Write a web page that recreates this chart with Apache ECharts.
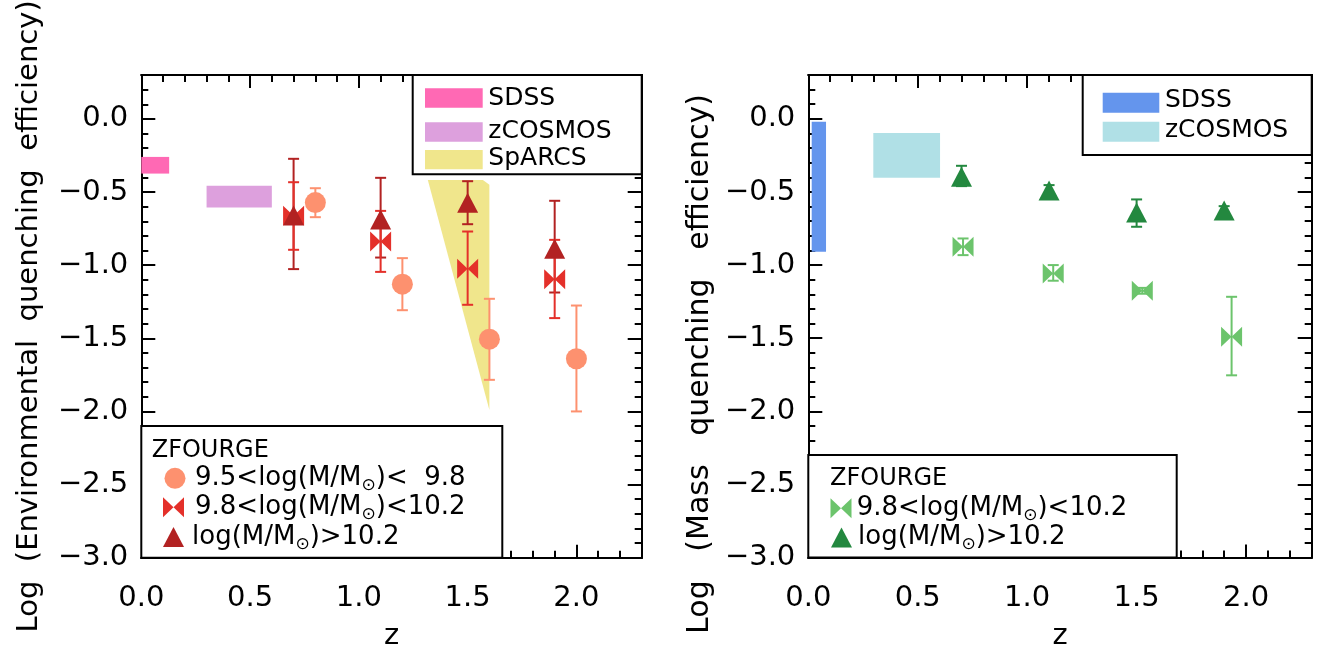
<!DOCTYPE html>
<html>
<head>
<meta charset="utf-8">
<script src="https://cdn.jsdelivr.net/npm/echarts@6/dist/echarts.min.js"></script>
<style>
html,body{margin:0;padding:0;background:#fff;}
#chart{width:1338px;height:645px;}
</style>
</head>
<body>
<div id="chart"></div>
<script>
// ---------- data ----------
const FONT = 'DejaVu Sans';
const xTickLabels = { '0': '0.0', '0.5': '0.5', '1': '1.0', '1.5': '1.5', '2': '2.0' };
const yTickLabels = { '0': '0.0', '-0.5': '\u22120.5', '-1': '\u22121.0', '-1.5': '\u22121.5', '-2': '\u22122.0', '-2.5': '\u22122.5', '-3': '\u22123.0' };

// Left panel: environmental quenching efficiency
const envCircZ  = [0.8, 1.2, 1.6, 2.0];
const envCircY  = [-0.572, -1.13, -1.506, -1.64];
const envCircLo = [-0.672, -1.308, -1.784, -2.0];
const envCircHi = [-0.474, -0.952, -1.23, -1.276];

const envBowZ  = [0.7, 1.1, 1.5, 1.9];
const envBowY  = [-0.663, -0.839, -1.025, -1.096];
const envBowLo = [-0.895, -1.046, -1.271, -1.362];
const envBowHi = [-0.433, -0.629, -0.77, -0.827];

const envTriZ  = [0.7, 1.1, 1.5, 1.9];
const envTriY  = [-0.66, -0.688, -0.573, -0.887];
const envTriLo = [-1.027, -0.948, -0.72, -1.187];
const envTriHi = [-0.273, -0.403, -0.426, -0.56];

// reference regions [z0, z1, yLow, yHigh]
const envSDSS    = [0.0, 0.128, -0.374, -0.26];
const envZCOSMOS = [0.3, 0.6, -0.606, -0.458];
const sparcsZ = [1.317, 1.57, 1.6, 1.6];
const sparcsY = [-0.417, -0.417, -0.45, -1.99];

// Right panel: mass quenching efficiency
const massBowZ  = [0.707, 1.119, 1.526, 1.934];
const massBowY  = [-0.875, -1.057, -1.176, -1.49];
const massBowLo = [-0.932, -1.107, -1.196, -1.754];
const massBowHi = [-0.818, -1.0, -1.156, -1.217];

const massTriZ  = [0.7, 1.1, 1.5, 1.9];
const massTriY  = [-0.396, -0.49, -0.64, -0.627];
const massTriLo = [-0.46, -0.53, -0.738, -0.66];
const massTriHi = [-0.321, -0.453, -0.551, -0.597];

const massSDSS    = [0.0155, 0.081, -0.909, -0.02];
const massZCOSMOS = [0.297, 0.602, -0.403, -0.096];

// text
const envTitle  = 'Log  (Environmental  quenching  efficiency)';
const massTitle = 'Log   (Mass   quenching   efficiency)';
const xTitle = 'z';
const refNamesLeft  = ['SDSS', 'zCOSMOS', 'SpARCS'];
const refNamesRight = ['SDSS', 'zCOSMOS'];
const zfTitle = 'ZFOURGE';
const binLabels = [
  '{n|9.5<log(M/M}{s|\u2299}{n|)<  9.8}',
  '{n|9.8<log(M/M}{s|\u2299}{n|)<10.2}',
  '{n|log(M/M}{s|\u2299}{n|)>10.2}'
];

// colours
const C_CIRC = '#fd916f';
const C_BOW  = '#e4302a';
const C_TRI  = '#b22222';
const C_GBOW = '#6cc46c';
const C_GTRI = '#23883f';
const C_SDSS_L = '#ff69b4', C_ZC_L = '#dda0dd', C_SP = '#f0e68c';
const C_SDSS_R = '#6495ed', C_ZC_R = '#b0e0e6';
const BOWTIE = 'path://M0,0L10,5L0,10ZM20,0L10,5L20,10Z';

// ---------- layout ----------
const G = [
  { left: 141.3, top: 75, width: 500.4, height: 482.7, containLabel: false, outerBoundsMode: 'none' },
  { left: 808.3, top: 75, width: 503.4, height: 482.5, containLabel: false, outerBoundsMode: 'none' }
];

function xAxes(g) {
  const base = {
    type: 'value', gridIndex: g, min: 0, max: 2.3,
    splitLine: { show: false },
    axisLine: { show: true, onZero: false, lineStyle: { color: '#000', width: 2 } }
  };
  const tk = (len) => ({ show: true, inside: true, length: len, lineStyle: { color: '#000', width: 2 } });
  return [
    Object.assign({}, base, {
      position: 'bottom', interval: 0.5, axisTick: tk(13),
      axisLabel: { show: true, margin: 26, color: '#000', fontSize: 29, fontFamily: FONT,
        showMaxLabel: false, showMinLabel: true,
        formatter: v => xTickLabels[String(Math.round(v * 10) / 10)] || '' },
      name: xTitle, nameLocation: 'middle', nameGap: 64,
      nameTextStyle: { color: '#000', fontSize: 29, fontFamily: FONT }
    }),
    Object.assign({}, base, { position: 'bottom', interval: 0.1, axisTick: tk(7), axisLabel: { show: false } }),
    Object.assign({}, base, { position: 'top', interval: 0.5, axisTick: tk(13), axisLabel: { show: false } }),
    Object.assign({}, base, { position: 'top', interval: 0.1, axisTick: tk(7), axisLabel: { show: false } })
  ];
}
function yAxes(g, title) {
  const base = {
    type: 'value', gridIndex: g, min: -3, max: 0.3,
    splitLine: { show: false },
    axisLine: { show: true, onZero: false, lineStyle: { color: '#000', width: 2 } }
  };
  const tk = (len) => ({ show: true, inside: true, length: len, lineStyle: { color: '#000', width: 2 } });
  const main = Object.assign({}, base, {
    position: 'left', interval: 0.5, axisTick: tk(14),
    axisLabel: { show: true, margin: 13, color: '#000', fontSize: 29, fontFamily: FONT,
      showMaxLabel: false, showMinLabel: true,
      formatter: v => yTickLabels[String(Math.round(v * 10) / 10)] || '' }
  });
  if (title) {
    Object.assign(main, { name: title, nameLocation: 'middle', nameGap: 97, nameRotate: 90,
      nameTextStyle: { color: '#000', fontSize: 29, fontFamily: FONT } });
  }
  return [
    main,
    Object.assign({}, base, { position: 'left', interval: 0.1, axisTick: tk(7), axisLabel: { show: false } }),
    Object.assign({}, base, { position: 'right', interval: 0.5, axisTick: tk(14), axisLabel: { show: false } }),
    Object.assign({}, base, { position: 'right', interval: 0.1, axisTick: tk(7), axisLabel: { show: false } })
  ];
}

// ---------- series helpers ----------
function rectSeries(g, r, color) {
  return {
    type: 'custom', xAxisIndex: g * 4, yAxisIndex: g * 4, z: 1, silent: true,
    data: [r],
    renderItem: (p, api) => {
      const a = api.coord([api.value(0), api.value(3)]);
      const b = api.coord([api.value(1), api.value(2)]);
      return { type: 'rect', shape: { x: a[0], y: a[1], width: b[0] - a[0], height: b[1] - a[1] }, style: { fill: color } };
    }
  };
}
function polySeries(g, zs, ys, color) {
  return {
    type: 'custom', xAxisIndex: g * 4, yAxisIndex: g * 4, z: 1, silent: true,
    data: [[zs[0], ys[0]]],
    renderItem: (p, api) => ({
      type: 'polygon',
      shape: { points: zs.map((z, i) => api.coord([z, ys[i]])) },
      style: { fill: color }
    })
  };
}
function errSeries(g, zs, lo, hi, color) {
  return {
    type: 'custom', xAxisIndex: g * 4, yAxisIndex: g * 4, z: 2, silent: true,
    data: zs.map((z, i) => [z, lo[i], hi[i]]),
    renderItem: (p, api) => {
      const a = api.coord([api.value(0), api.value(1)]);
      const b = api.coord([api.value(0), api.value(2)]);
      const w = 5.5, st = { stroke: color, lineWidth: 2 };
      return { type: 'group', children: [
        { type: 'line', shape: { x1: a[0], y1: a[1], x2: b[0], y2: b[1] }, style: st },
        { type: 'line', shape: { x1: a[0] - w, y1: a[1], x2: a[0] + w, y2: a[1] }, style: st },
        { type: 'line', shape: { x1: b[0] - w, y1: b[1], x2: b[0] + w, y2: b[1] }, style: st }
      ] };
    }
  };
}
function ptSeries(g, zs, ys, symbol, size, color) {
  return {
    type: 'scatter', xAxisIndex: g * 4, yAxisIndex: g * 4, z: 3, silent: true,
    symbol: symbol, symbolSize: size,
    itemStyle: { color: color, opacity: 1 },
    data: zs.map((z, i) => [z, ys[i]])
  };
}

// ---------- legend graphics ----------
const txt = (x, y, text, size) => ({
  type: 'text', x: x, y: y, z: 20,
  style: { text: text, fill: '#000', fontSize: size, fontFamily: FONT, verticalAlign: 'middle', align: 'left' }
});
const richTxt = (x, y, text) => ({
  type: 'text', x: x, y: y, z: 20,
  style: {
    text: text, fill: '#000', fontFamily: FONT, verticalAlign: 'middle', align: 'left',
    rich: {
      n: { fontSize: 26, fontFamily: FONT, lineHeight: 32, fill: '#000' },
      s: { fontSize: 17, fontFamily: FONT, lineHeight: 17, fill: '#000', verticalAlign: 'bottom' }
    }
  }
});
const box = (x1, y1, x2, y2) => ({
  type: 'rect', z: 15, shape: { x: x1, y: y1, width: x2 - x1, height: y2 - y1 },
  style: { fill: '#fff', stroke: '#000', lineWidth: 2 }
});
const swatch = (x1, y1, x2, y2, c) => ({
  type: 'rect', z: 18, shape: { x: x1, y: y1, width: x2 - x1, height: y2 - y1 }, style: { fill: c }
});
const bowIcon = (cx, cy, c) => ({
  type: 'polygon', z: 18,
  shape: { points: [[cx - 10.5, cy - 10], [cx, cy], [cx - 10.5, cy + 10]] }, style: { fill: c }
});
const bowIcon2 = (cx, cy, c) => ({
  type: 'polygon', z: 18,
  shape: { points: [[cx + 10.5, cy - 10], [cx, cy], [cx + 10.5, cy + 10]] }, style: { fill: c }
});
const triIcon = (cx, cy, c) => ({
  type: 'polygon', z: 18,
  shape: { points: [[cx, cy - 10], [cx + 10.5, cy + 10], [cx - 10.5, cy + 10]] }, style: { fill: c }
});

const graphics = [
  // right panel y title
  {
    type: 'text', x: 700, y: 364, rotation: Math.PI / 2, z: 20,
    style: { text: massTitle, fill: '#000', fontSize: 30, fontFamily: FONT, align: 'center', verticalAlign: 'middle' }
  },
  // left top legend
  box(412.7, 75, 641.7, 174.3),
  swatch(425, 88.3, 482.7, 107.7, C_SDSS_L), txt(488.3, 98.5, refNamesLeft[0], 25),
  swatch(425, 122.3, 482.7, 141.7, C_ZC_L), txt(488.3, 131.5, refNamesLeft[1], 25),
  swatch(425, 150, 482.7, 169.3, C_SP), txt(488.3, 158.5, refNamesLeft[2], 25),
  // left bottom legend
  box(141.3, 426, 502.3, 557.7),
  txt(151.7, 451, zfTitle, 24),
  { type: 'circle', z: 18, shape: { cx: 175, cy: 478.3, r: 10.5 }, style: { fill: C_CIRC } },
  richTxt(195, 478.3, binLabels[0]),
  bowIcon(173.5, 507.3, C_BOW), bowIcon2(173.5, 507.3, C_BOW),
  richTxt(195, 507.3, binLabels[1]),
  triIcon(173.5, 537, C_TRI),
  richTxt(192, 537, binLabels[2]),
  // right top legend
  box(1082.7, 75, 1311.7, 155),
  swatch(1102.7, 92.7, 1159.3, 112.7, C_SDSS_R), txt(1165, 100, refNamesRight[0], 25),
  swatch(1102.7, 121.7, 1159.3, 141.7, C_ZC_R), txt(1165, 130.5, refNamesRight[1], 25),
  // right bottom legend
  box(808.3, 455, 1176.7, 557.5),
  txt(830, 478.5, zfTitle, 24),
  bowIcon(841, 508.3, C_GBOW), bowIcon2(841, 508.3, C_GBOW),
  richTxt(856.7, 508.3, binLabels[1]),
  triIcon(841.5, 537.5, C_GTRI),
  richTxt(858, 537.5, binLabels[2])
];

const option = {
  animation: false,
  backgroundColor: '#fff',
  grid: G,
  xAxis: xAxes(0).concat(xAxes(1)),
  yAxis: yAxes(0, envTitle).concat(yAxes(1, null)),
  graphic: { elements: graphics },
  series: [
    rectSeries(0, envSDSS, C_SDSS_L),
    rectSeries(0, envZCOSMOS, C_ZC_L),
    polySeries(0, sparcsZ, sparcsY, C_SP),
    errSeries(0, envTriZ, envTriLo, envTriHi, C_TRI),
    errSeries(0, envBowZ, envBowLo, envBowHi, C_BOW),
    errSeries(0, envCircZ, envCircLo, envCircHi, C_CIRC),
    ptSeries(0, envCircZ, envCircY, 'circle', 21, C_CIRC),
    ptSeries(0, envBowZ, envBowY, BOWTIE, [21, 20], C_BOW),
    ptSeries(0, envTriZ, envTriY, 'triangle', [21, 20], C_TRI),

    rectSeries(1, massSDSS, C_SDSS_R),
    rectSeries(1, massZCOSMOS, C_ZC_R),
    errSeries(1, massBowZ, massBowLo, massBowHi, C_GBOW),
    errSeries(1, massTriZ, massTriLo, massTriHi, C_GTRI),
    ptSeries(1, massBowZ, massBowY, BOWTIE, [21, 20], C_GBOW),
    ptSeries(1, massTriZ, massTriY, 'triangle', [21, 20], C_GTRI)
  ]
};
const chart = echarts.init(document.getElementById('chart'), null, { renderer: 'canvas' });
chart.setOption(option);
</script>
</body>
</html>
